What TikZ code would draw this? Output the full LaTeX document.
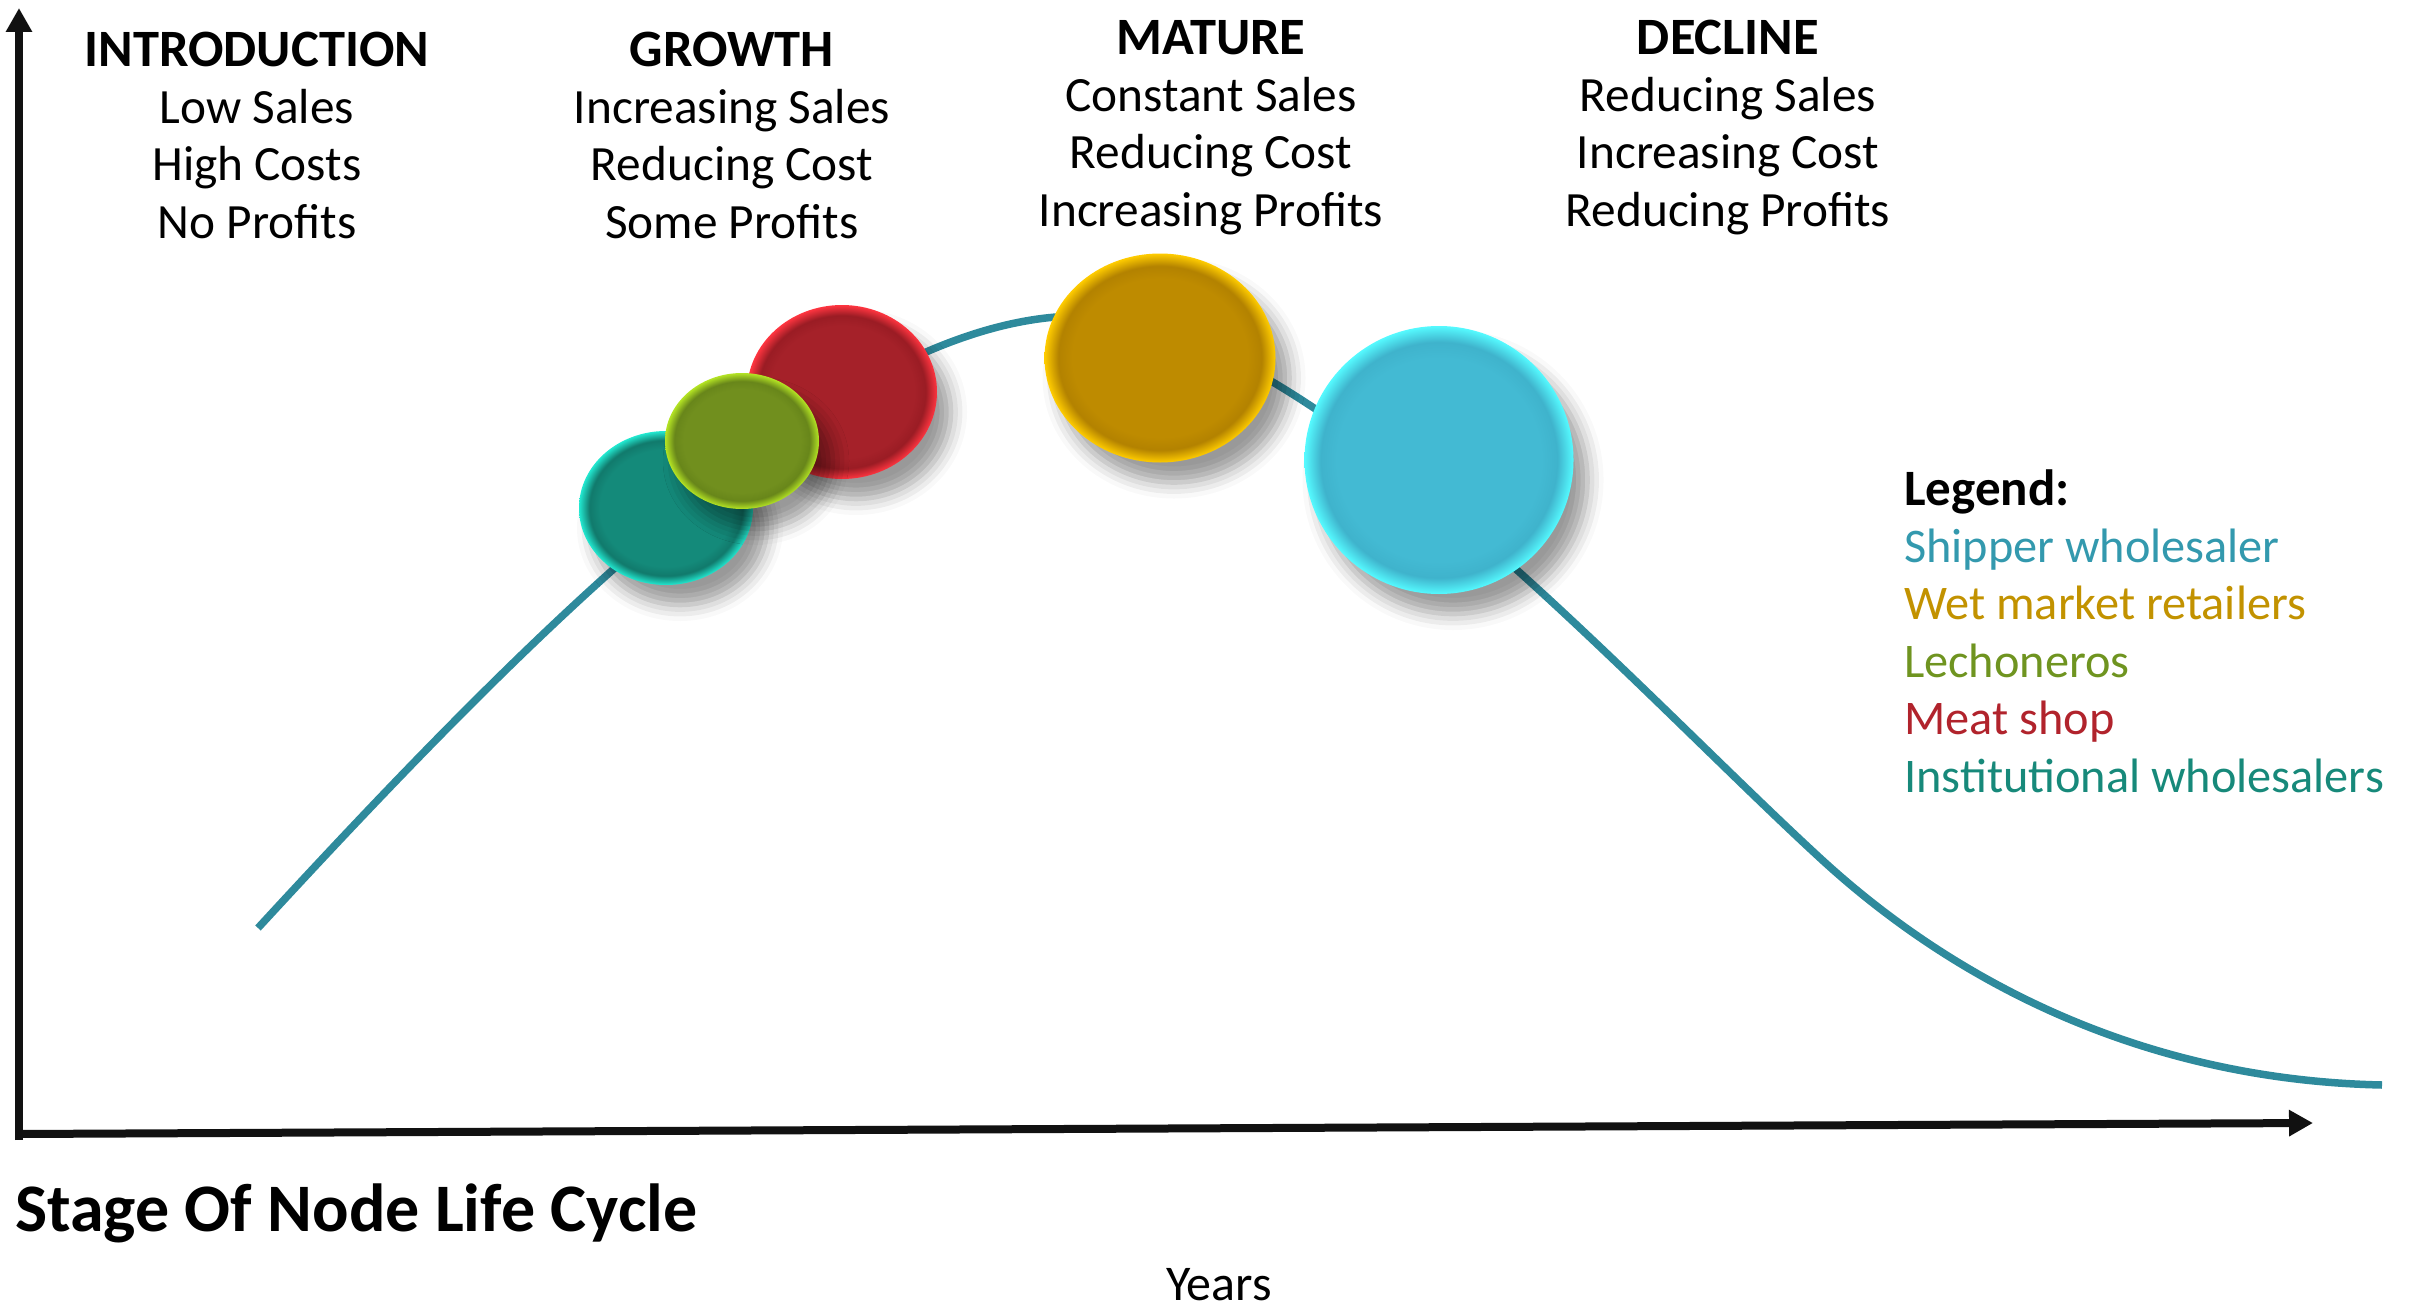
\documentclass[tikz,border=0pt]{standalone}
\usepackage{fontspec}
\setmainfont{Carlito}
\usetikzlibrary{arrows.meta,shapes.geometric,shadows.blur}

% line and text colours
\definecolor{axisblack}{HTML}{111111}
\definecolor{curveblue}{HTML}{2E8A9C}
\definecolor{shipperC}{HTML}{3399AE}
\definecolor{wetC}{HTML}{C29200}
\definecolor{lechonC}{HTML}{6F9420}
\definecolor{meatC}{HTML}{B1232C}
\definecolor{instC}{HTML}{17897A}

% bubble colours: flat centre, slightly darker band, bright rim
\definecolor{tealIn}{HTML}{148A7A}\definecolor{tealDeep}{HTML}{117A6C}\definecolor{tealRim}{HTML}{22E8D0}
\definecolor{greenIn}{HTML}{718F1E}\definecolor{greenDeep}{HTML}{68861A}\definecolor{greenRim}{HTML}{B4E424}
\definecolor{redIn}{HTML}{A52129}\definecolor{redDeep}{HTML}{9A1C24}\definecolor{redRim}{HTML}{FF3540}
\definecolor{goldIn}{HTML}{BE8B00}\definecolor{goldDeep}{HTML}{B38200}\definecolor{goldRim}{HTML}{FFCC00}
\definecolor{cyanIn}{HTML}{43BAD3}\definecolor{cyanDeep}{HTML}{3FB3CC}\definecolor{cyanRim}{HTML}{55FAFF}

\newcommand{\makeballshading}[4]{%
  \pgfdeclareradialshading{#1}{\pgfpoint{0bp}{0bp}}{%
    color(0bp)=(#2); color(19bp)=(#2); color(22bp)=(#3);
    color(25bp)=(#4); color(50bp)=(#4)}}
\makeballshading{tealball}{tealIn}{tealDeep}{tealRim}
\makeballshading{greenball}{greenIn}{greenDeep}{greenRim}
\makeballshading{redball}{redIn}{redDeep}{redRim}
\makeballshading{goldball}{goldIn}{goldDeep}{goldRim}
\makeballshading{cyanball}{cyanIn}{cyanDeep}{cyanRim}

\begin{document}
\begin{tikzpicture}[x=1pt,y=-1pt,
  axis/.style={line width=8pt, draw=axisblack, -{Triangle[length=24pt,width=25pt]}},
  lifecurve/.style={line width=7.5pt, draw=curveblue},
  bubble/.style={ellipse, inner sep=0pt, shade,
    blur shadow={shadow xshift=14pt, shadow yshift=-20pt,
      shadow blur radius=16pt, shadow opacity=40}},
  stagehead/.style={anchor=base, inner sep=0pt, font=\fontsize{52.5}{57}\selectfont\bfseries},
  stageline/.style={anchor=base, inner sep=0pt, font=\fontsize{49.3}{57}\selectfont},
  legendhead/.style={anchor=base west, inner sep=0pt, font=\fontsize{51}{57}\selectfont\bfseries},
  legendline/.style={anchor=base west, inner sep=0pt, font=\fontsize{48.3}{57}\selectfont},
]
\useasboundingbox (0,0) rectangle (2412,1308);

% axes
\coordinate (ybottom) at (19,1140);
\coordinate (ytop) at (19,8);
\coordinate (origin) at (19,1134);
\coordinate (xend) at (2313,1123);
\draw[axis] (ybottom) -- (ytop);
\draw[axis] (origin) -- (xend);

% life cycle curve
\draw[lifecurve] (258,928)
  .. controls (560,600) and (850,316) .. (1080,316)
  .. controls (1300,316) and (1620,674) .. (1820,858)
  .. controls (1960,987) and (2150,1080) .. (2382,1085);

% bubbles
\node[bubble, shading=redball, minimum width=190pt, minimum height=174pt] (meat) at (842,392) {};
\node[bubble, shading=tealball, minimum width=174pt, minimum height=154pt] (institutional) at (666,508) {};
\node[bubble, shading=goldball, minimum width=231pt, minimum height=209pt] (wetmarket) at (1160,358) {};
\node[bubble, shading=cyanball, minimum width=269pt, minimum height=268pt] (shipper) at (1439,460) {};
\node[bubble, shading=greenball, minimum width=154pt, minimum height=136pt] (lechoneros) at (742,441) {};

% stage captions
\foreach \nm/\cx/\by/\hd/\la/\lb/\lc in {
  intro/257/67/INTRODUCTION/Low Sales/High Costs/No Profits,
  growth/732/67/GROWTH/Increasing Sales/Reducing Cost/Some Profits,
  mature/1211/55/MATURE/Constant Sales/Reducing Cost/Increasing Profits,
  decline/1728/55/DECLINE/Reducing Sales/Increasing Cost/Reducing Profits}{
  \node[stagehead] (\nm) at (\cx,\by) {\hd};
  \node[stageline] (\nm-a) at (\cx,{\by+57}) {\la};
  \node[stageline] (\nm-b) at (\cx,{\by+114}) {\lb};
  \node[stageline] (\nm-c) at (\cx,{\by+171}) {\lc};
}

% legend
\node[legendhead] (legend) at (1904,505) {Legend:};
\foreach \i/\txt/\col in {1/Shipper wholesaler/shipperC, 2/Wet market retailers/wetC,
  3/Lechoneros/lechonC, 4/Meat shop/meatC, 5/Institutional wholesalers/instC}{
  \node[legendline, text=\col] (legend-\i) at (1904,{505+57.4*\i}) {\txt};
}

% axis captions
\node[anchor=base west, inner sep=0pt, font=\fontsize{68}{72}\selectfont\bfseries] (title) at (15,1231) {Stage Of Node Life Cycle};
\node[anchor=base, inner sep=0pt, font=\fontsize{50}{54}\selectfont] (years) at (1219,1300) {Years};
\end{tikzpicture}
\end{document}
